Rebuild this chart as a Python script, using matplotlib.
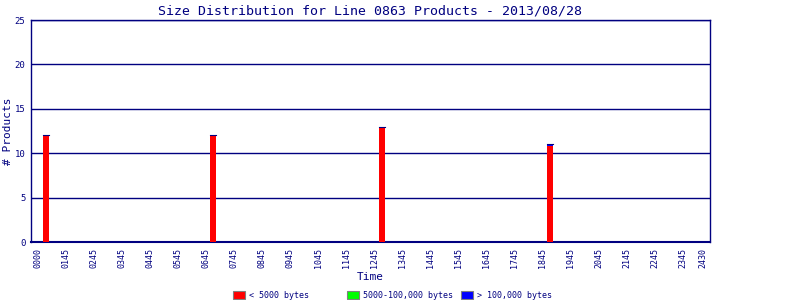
import matplotlib
matplotlib.use("Agg")
import matplotlib.pyplot as plt
from matplotlib.patches import Rectangle

NAVY = "#000080"
FONT = "DejaVu Sans Mono"

# hourly slots (0 = 0000 label)
tick_pos = list(range(24)) + [23.72]
tick_labels = ["0000"] + [f"{h:02d}45" for h in range(1, 24)] + ["2430"]

bar_x = [0.29, 6.25, 12.27, 18.26]
small = [12, 12, 13, 10.8]      # < 5000 bytes
medium = [0, 0, 0, 0]           # 5000-100,000 bytes
large = [0, 0, 0, 0.2]          # > 100,000 bytes

legend_labels = ["< 5000 bytes", "5000-100,000 bytes", "> 100,000 bytes"]
legend_colors = ["#ff0000", "#00ff00", "#0000ff"]

fig = plt.figure(figsize=(8, 3), dpi=100)
ax = fig.add_axes([31 / 800, 58 / 300, 679 / 800, 222 / 300])

w = 0.23
ax.bar(bar_x, small, width=w, color=legend_colors[0], zorder=3)
ax.bar(bar_x, medium, width=w, bottom=small, color=legend_colors[1], zorder=3)
bot2 = [a + b for a, b in zip(small, medium)]
ax.bar(bar_x, large, width=w, bottom=bot2, color=legend_colors[2], zorder=3)
tops = [a + b for a, b in zip(bot2, large)]
for x, t in zip(bar_x, tops):
    ax.plot([x - w / 2, x + w / 2], [t, t], color=NAVY, lw=0.8, zorder=4)

ax.set_xlim(-0.24, 23.96)
ax.set_ylim(0, 25)
ax.set_yticks([0, 5, 10, 15, 20, 25])
ax.set_xticks(tick_pos)
ax.set_xticklabels(tick_labels, rotation=90, fontsize=6, family=FONT, color=NAVY)
for lab in ax.get_yticklabels():
    lab.set_fontsize(6.5)
    lab.set_family(FONT)
    lab.set_color(NAVY)
ax.tick_params(length=0, pad=4)
ax.yaxis.grid(True, color=NAVY, lw=1, zorder=1)
for s in ax.spines.values():
    s.set_color(NAVY)
    s.set_linewidth(1)
ax.spines["bottom"].set_linewidth(1.5)

ax.set_title("Size Distribution for Line 0863 Products - 2013/08/28",
             fontsize=9.5, family=FONT, color=NAVY, pad=4)
ax.set_xlabel("Time", fontsize=8, family=FONT, color=NAVY, labelpad=3)
ax.set_ylabel("# Products", fontsize=8, family=FONT, color=NAVY, labelpad=1)

# legend row at the bottom
lx = [233, 347, 461]
for x0, lab, c in zip(lx, legend_labels, legend_colors):
    fig.patches.append(Rectangle((x0 / 800, 1 / 300), 12 / 800, 8 / 300,
                                 transform=fig.transFigure, facecolor=c,
                                 edgecolor="gray", lw=0.8))
    fig.text((x0 + 16) / 800, 5 / 300, lab, fontsize=6, family=FONT,
             color=NAVY, va="center", ha="left")

fig.savefig("out.png", dpi=100)
